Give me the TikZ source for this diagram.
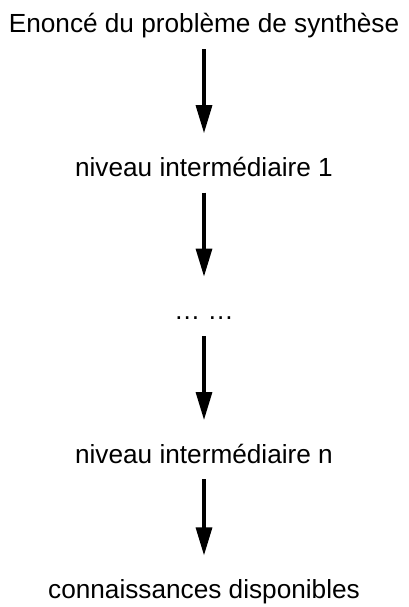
\documentclass[tikz,border=0pt]{standalone}
\usepackage{fontspec}
\setmainfont{Liberation Sans}
\usetikzlibrary{arrows.meta,positioning}

\begin{document}
\begin{tikzpicture}[node distance=84pt]
\tikzstyle{etape} = [inner sep=0pt, text height=43pt, text depth=16pt, align=center, font=\fontsize{26.2pt}{30pt}\selectfont]
\tikzstyle{arrow} = [line width=3.2pt, -{Triangle[length=28pt,width=16pt]}]

\useasboundingbox (0,0) rectangle (409pt,-607pt);

\node (enonce) [etape, anchor=base] at (204pt,-33pt) {Enoncé du problème de synthèse};
\node (niveau1) [etape, below=of enonce] {niveau intermédiaire 1};
\node (dots) [etape, below=of niveau1] {… …};
\node (niveaun) [etape, below=of dots] {niveau intermédiaire n};
\node (connaissances) [etape, below=of niveaun, yshift=8pt] {connaissances disponibles};

\draw [arrow] (enonce) -- (niveau1);
\draw [arrow] (niveau1) -- (dots);
\draw [arrow] (dots) -- (niveaun);
\draw [arrow] (niveaun) -- (connaissances);
\end{tikzpicture}
\end{document}
